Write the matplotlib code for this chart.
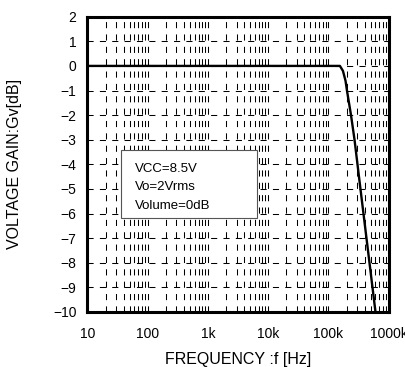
import numpy as np
import matplotlib
matplotlib.use("Agg")
import matplotlib.pyplot as plt
from matplotlib.patches import Rectangle
from matplotlib.ticker import FixedLocator, LogLocator, NullFormatter

plt.rcParams['font.family'] = ['Liberation Sans', 'DejaVu Sans']
plt.rcParams['lines.scale_dashes'] = False

# frequency response (flat, then roll-off above ~150kHz)
freq = [10, 100, 1e3, 1e4, 1e5, 155e3, 174e3, 192e3, 203e3, 237e3, 271e3, 340e3, 428e3, 604e3]
gain = [0, 0, 0, 0, 0, 0, -0.2, -0.6, -1, -2, -3, -5, -7, -10]

xticks = [10, 100, 1e3, 1e4, 1e5, 1e6]
xticklabels = ["10", "100", "1k", "10k", "100k", "1000k"]
yticks = list(range(-10, 3))
notes = ["VCC=8.5V", "Vo=2Vrms", "Volume=0dB"]

fig = plt.figure(figsize=(4.05, 3.67), dpi=100)
ax = fig.add_axes([0.216, 0.1499, 0.7437, 0.8046])

ax.plot(freq, gain, color="black", lw=1.7, zorder=4, solid_capstyle="butt")

ax.set_xscale("log")
ax.set_xlim(10, 1e6)
ax.set_ylim(-10, 2)
ax.xaxis.set_major_locator(FixedLocator(xticks))
ax.set_xticklabels(xticklabels)
ax.xaxis.set_minor_locator(LogLocator(base=10, subs=np.arange(2, 10)))
ax.xaxis.set_minor_formatter(NullFormatter())
ax.set_yticks(yticks)
ax.set_yticklabels([str(v).replace("-", "\u2212") for v in yticks])

dash = (0, (4.4, 4.5))
ax.grid(which="both", axis="x", color="black", lw=0.75, ls=dash, zorder=1)
ax.grid(which="major", axis="y", color="black", lw=0.75, ls=dash, zorder=1)
ax.set_axisbelow(True)

ax.tick_params(axis="both", which="both", length=0, labelsize=10)
ax.tick_params(axis="y", pad=8)
ax.tick_params(axis="x", pad=11)

for sp in ax.spines.values():
    sp.set_linewidth(2.2)
    sp.set_color("black")
    sp.set_zorder(5)

ax.set_xlabel("FREQUENCY :f [Hz]", fontsize=11.5, labelpad=8)
ax.set_ylabel("VOLTAGE GAIN:Gv[dB]", fontsize=11.5, labelpad=22)

# condition box
ax.add_patch(Rectangle((0.1112, 0.3193), 0.4506, 0.2293, transform=ax.transAxes,
                       facecolor="white", edgecolor="#555555", lw=0.8, zorder=3))
for txt, yb in zip(notes, [0.4751, 0.4131, 0.3488]):
    ax.text(0.1577, yb, txt, transform=ax.transAxes, fontsize=9.5,
            va="baseline", ha="left", zorder=4)

fig.savefig("out.png", dpi=100)
